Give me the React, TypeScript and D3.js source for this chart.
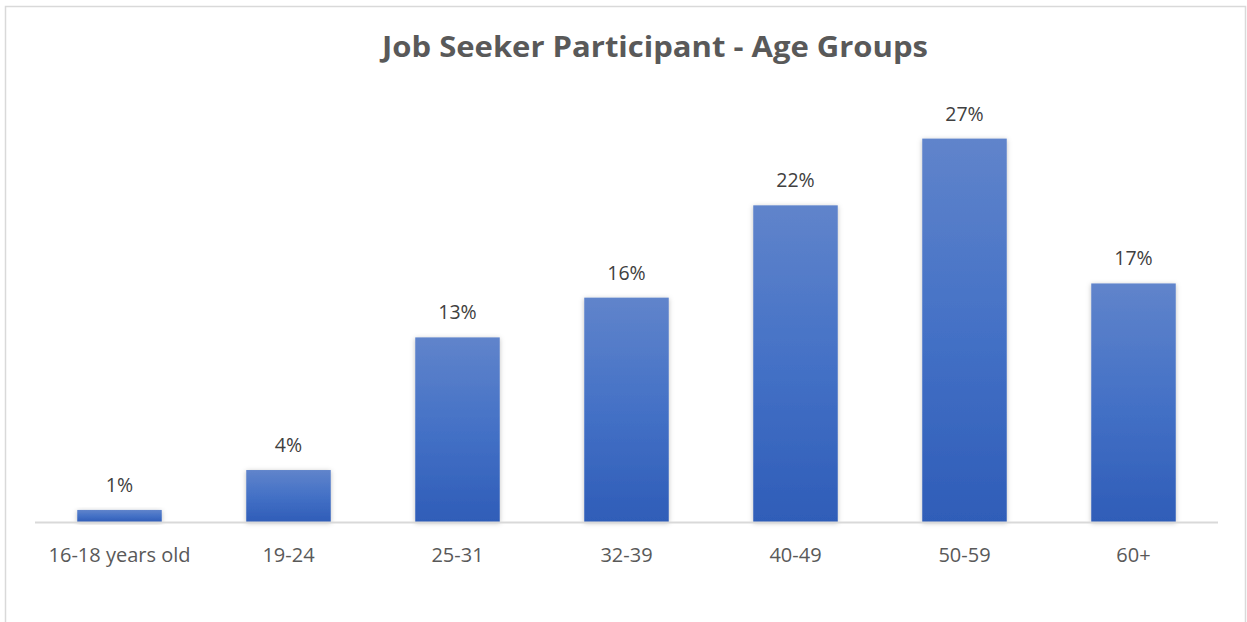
import React from "react";
import * as d3 from "d3";

const TITLE = "Job Seeker Participant - Age Groups";
const CATEGORIES = ["16-18 years old", "19-24", "25-31", "32-39", "40-49", "50-59", "60+"];
const VALUES = [0.85, 3.66, 13.0, 15.8, 22.3, 27.0, 16.8];
const LABELS = ["1%", "4%", "13%", "16%", "22%", "27%", "17%"];
const Y_DOMAIN = [0, 30];

const WIDTH = 1247;
const HEIGHT = 622;
const PLOT = { left: 35, right: 1218, top: 96, bottom: 522 };
const FONT = "'Open Sans', 'Liberation Sans', sans-serif";
const TEXT_COLOR = "#595959";

const X_SCALE = d3
  .scaleBand<string>()
  .domain(CATEGORIES)
  .range([PLOT.left, PLOT.right])
  .paddingInner(0.5)
  .paddingOuter(0.25);
const Y_SCALE = d3.scaleLinear().domain(Y_DOMAIN).range([PLOT.bottom, PLOT.top]);

export default function App() {
  return (
    <svg
      width={WIDTH}
      height={HEIGHT}
      style={{ position: "absolute", left: 0, top: 0, background: "#fff" }}
    >
      <defs>
        <linearGradient id="barGrad" x1="0" y1="0" x2="0" y2="1">
          <stop offset="0%" stopColor="#6084cb" />
          <stop offset="50%" stopColor="#4471c6" />
          <stop offset="100%" stopColor="#2f5db8" />
        </linearGradient>
        <filter id="shadow" x="-20%" y="-20%" width="140%" height="140%">
          <feDropShadow dx="0" dy="1" stdDeviation="2.5" floodColor="#000" floodOpacity="0.25" />
        </filter>
      </defs>

      {/* chart border */}
      <rect x={5.5} y={6.5} width={1240} height={640} fill="#fff" stroke="#d9d9d9" strokeWidth={1.5} />

      <text
        x={655}
        y={57}
        textAnchor="middle"
        fontFamily={FONT}
        fontWeight="bold"
        fontSize={28}
        fill={TEXT_COLOR}
        textLength={546}
        lengthAdjust="spacingAndGlyphs"
      >
        {TITLE}
      </text>

      {/* bars */}
      {CATEGORIES.map((c, i) => (
        <rect
          key={c}
          x={X_SCALE(c)}
          y={Y_SCALE(VALUES[i])}
          width={X_SCALE.bandwidth()}
          height={Y_SCALE(0) - Y_SCALE(VALUES[i])}
          fill="url(#barGrad)"
          filter="url(#shadow)"
        />
      ))}

      {/* baseline */}
      <line
        x1={PLOT.left}
        x2={PLOT.right}
        y1={Y_SCALE(0) + 0.5}
        y2={Y_SCALE(0) + 0.5}
        stroke="#d9d9d9"
        strokeWidth={2}
      />

      {/* value labels */}
      {CATEGORIES.map((c, i) => (
        <text
          key={c}
          x={(X_SCALE(c) ?? 0) + X_SCALE.bandwidth() / 2}
          y={Y_SCALE(VALUES[i]) - 18}
          textAnchor="middle"
          fontFamily={FONT}
          fontSize={19.5}
          fill="#404040"
        >
          {LABELS[i]}
        </text>
      ))}

      {/* category labels */}
      {CATEGORIES.map((c) => (
        <text
          key={c}
          x={(X_SCALE(c) ?? 0) + X_SCALE.bandwidth() / 2}
          y={562}
          textAnchor="middle"
          fontFamily={FONT}
          fontSize={20}
          fill={TEXT_COLOR}
        >
          {c}
        </text>
      ))}
    </svg>
  );
}
